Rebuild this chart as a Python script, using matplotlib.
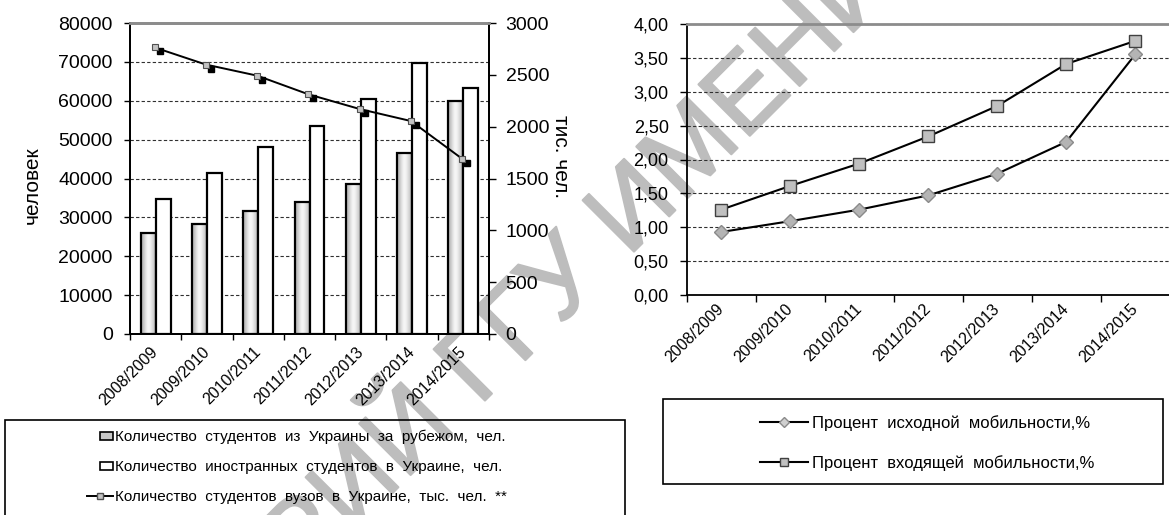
import matplotlib
matplotlib.use('Agg')
import matplotlib.pyplot as plt
import numpy as np
from matplotlib.patches import Patch, Rectangle
from matplotlib.lines import Line2D
from matplotlib.transforms import ScaledTranslation
from matplotlib.ticker import FuncFormatter
from matplotlib.legend_handler import HandlerPatch
import matplotlib.patheffects as pe

plt.rcParams['font.family'] = ['Liberation Sans', 'DejaVu Sans']

# ---------------- data ----------------
years = ['2008/2009', '2009/2010', '2010/2011', '2011/2012',
         '2012/2013', '2013/2014', '2014/2015']
abroad = [26000, 28300, 31600, 33900, 38500, 46500, 60000]      # студенты из Украины за рубежом
foreign = [34600, 41500, 48200, 53500, 60400, 69800, 63200]     # иностранные студенты в Украине
students_k = [2764, 2599, 2492, 2312, 2170, 2054, 1689]         # студенты вузов, тыс. чел.
outgoing = [0.93, 1.09, 1.26, 1.47, 1.79, 2.26, 3.55]           # исходная мобильность, %
incoming = [1.26, 1.61, 1.94, 2.34, 2.79, 3.41, 3.75]           # входящая мобильность, %

lab_abroad = 'Количество  студентов  из  Украины  за  рубежом,  чел.'
lab_foreign = 'Количество  иностранных  студентов  в  Украине,  чел.'
lab_students = 'Количество  студентов  вузов  в  Украине,  тыс.  чел.  **'
lab_out = 'Процент  исходной  мобильности,%'
lab_in = 'Процент  входящей  мобильности,%'

W, H = 1169, 515
fig = plt.figure(figsize=(W / 100, H / 100), dpi=100)


def fr(x0, y0, x1, y1):
    return [x0 / W, 1 - y1 / H, (x1 - x0) / W, (y1 - y0) / H]


grid_kw = dict(linestyle=(0, (3, 2)), color='#303030', lw=0.8)
top_col = '#8c8c8c'

# ---------------- left chart ----------------
ax = fig.add_axes(fr(130, 23, 489, 334))
ax.set_facecolor('none')
x = np.arange(len(years))
bw = 0.29
bars1 = ax.bar(x - bw / 2, abroad, bw, color='#d0d0d0', edgecolor='none', zorder=2)
grad = np.array([[0.70, 0.80, 0.92, 0.98, 0.93, 0.84, 0.76]])
for b in bars1:
    im = ax.imshow(grad, extent=[b.get_x(), b.get_x() + b.get_width(), 0, b.get_height()],
                   aspect='auto', cmap='gray', vmin=0, vmax=1, interpolation='bicubic', zorder=2.2)
    im.set_clip_path(b)
ax.bar(x - bw / 2, abroad, bw, facecolor='none', edgecolor='black', lw=1.6, zorder=3)
ax.bar(x + bw / 2, foreign, bw, facecolor='white', edgecolor='black', lw=1.6, zorder=3)
ax.set_xlim(-0.5, len(years) - 0.5)
ax.set_ylim(0, 80000)
ax.set_yticks(range(0, 80001, 10000))
ax.yaxis.grid(True, **grid_kw)
ax.set_axisbelow(True)
ax.set_xticks(np.arange(-0.5, len(years), 1))
ax.set_xticklabels([])
ax.set_xticks(x, minor=True)
ax.set_xticklabels(years, minor=True, rotation=45, ha='right', va='center',
                   rotation_mode='anchor', fontsize=11.5)
ax.tick_params(axis='x', which='minor', length=0, pad=11)
ax.tick_params(axis='x', which='major', length=4, width=1, direction='out')
ax.tick_params(axis='y', length=4.5, width=1, labelsize=14, pad=8)
for s in ['left', 'bottom', 'right']:
    ax.spines[s].set_linewidth(1.3)
ax.spines['top'].set_color(top_col)
ax.spines['top'].set_linewidth(2)
ax.set_ylabel('человек', fontsize=15)
ax.yaxis.set_label_coords(-0.245, 0.48)

axr = ax.twinx()
axr.set_facecolor('none')
axr.set_ylim(0, 3000)
axr.set_yticks(range(0, 3001, 500))
axr.tick_params(axis='y', length=5, width=1, labelsize=14, pad=7)
for s in ['left', 'bottom', 'right']:
    axr.spines[s].set_linewidth(1.3)
axr.spines['top'].set_color(top_col)
axr.spines['top'].set_linewidth(2)
shadow = axr.transData + ScaledTranslation(5 / 100, -4 / 100, fig.dpi_scale_trans)
axr.plot(x - 0.02, students_k, linestyle='none', marker='s', ms=5, mfc='black',
         mec='black', transform=shadow, zorder=4)
axr.plot(x - 0.02, students_k, color='black', lw=1.4, marker='s', ms=5,
         mfc='#c4c4c4', mec='#505050', mew=0.8, zorder=5)
axr.set_ylabel('тис. чел.', fontsize=15, rotation=270, va='center')
axr.yaxis.set_label_coords(1.2, 0.57)


# left legend
def small_box(legend, orig_handle, xdescent, ydescent, width, height, fontsize):
    wr = 13 * 72 / 100
    hr = height * 0.85
    return Rectangle((width - xdescent - wr, -ydescent + (height - hr) / 2), wr, hr)


fig.patches.append(Rectangle((5 / W, -0.1), (625 - 5) / W, 1 - 420 / H + 0.1,
                             transform=fig.transFigure, fill=False, ec='black', lw=1.2))
h_left = [Patch(facecolor='#c8c8c8', edgecolor='black', lw=1.2),
          Patch(facecolor='white', edgecolor='black', lw=1.2),
          Line2D([], [], color='black', lw=1.4, marker='s', ms=4.5, mfc='#c4c4c4', mec='#505050')]
fig.legend(h_left, [lab_abroad, lab_foreign, lab_students], loc='upper left',
           bbox_to_anchor=(87 / W, 1 - 430 / H), frameon=False, fontsize=11,
           handlelength=1.7, handleheight=0.6, handletextpad=0.15, labelspacing=1.03,
           borderpad=0, borderaxespad=0,
           handler_map={Patch: HandlerPatch(patch_func=small_box)})

# ---------------- right chart ----------------
ax2 = fig.add_axes(fr(686.7, 24, 1169.7, 295))
ax2.set_facecolor('none')
ax2.plot(x, outgoing, color='black', lw=1.5, marker='D', ms=7.5, mfc='#b4b4b4',
         mec='#8a8a8a', mew=1, zorder=4)
ax2.plot(x, incoming, color='black', lw=1.5, marker='s', ms=8.5, mfc='#c0c0c0',
         mec='#404040', mew=1, zorder=4)
ax2.set_xlim(-0.5, len(years) - 0.5)
ax2.set_ylim(0, 4)
ax2.set_yticks(np.arange(0, 4.01, 0.5))
ax2.yaxis.set_major_formatter(FuncFormatter(lambda v, p: f'{v:.2f}'.replace('.', ',')))
ax2.yaxis.grid(True, **grid_kw)
ax2.set_axisbelow(True)
ax2.set_xticks(np.arange(-0.5, len(years), 1))
ax2.set_xticklabels([])
ax2.set_xticks(x, minor=True)
ax2.set_xticklabels(years, minor=True, rotation=45, ha='right', va='center',
                    rotation_mode='anchor', fontsize=11.5)
ax2.tick_params(axis='x', which='minor', length=0, pad=8.5)
ax2.tick_params(axis='x', which='major', length=5, width=1, direction='out')
ax2.tick_params(axis='y', length=5, width=1, labelsize=13, pad=8)
ax2.spines['left'].set_linewidth(1.3)
ax2.spines['bottom'].set_linewidth(1.3)
ax2.spines['right'].set_visible(False)
ax2.spines['top'].set_color(top_col)
ax2.spines['top'].set_linewidth(2)

fig.patches.append(Rectangle((662.7 / W, 1 - 484 / H), (1163 - 662.7) / W, (484 - 399) / H,
                             transform=fig.transFigure, fill=False, ec='black', lw=1.2))
h_right = [Line2D([], [], color='black', lw=1.5, marker='D', ms=5, mfc='#d0d0d0', mec='#8a8a8a'),
           Line2D([], [], color='black', lw=1.5, marker='s', ms=6, mfc='#c0c0c0', mec='#404040')]
fig.legend(h_right, [lab_out, lab_in], loc='upper left',
           bbox_to_anchor=(760 / W, 1 - 415 / H), frameon=False, fontsize=12,
           handlelength=2.9, handletextpad=0.25, labelspacing=1.43,
           borderpad=0, borderaxespad=0)

# watermark (drawn beneath the chart content)
wm_col = '#bdbdbd'
fig.text(900 / W, 1 + 14.4 / H, 'РЕПОЗИТОРИЙ ГГУ ИМЕНИ', ha='right', va='baseline',
         rotation=45, rotation_mode='anchor', fontsize=76, color=wm_col, zorder=-1,
         path_effects=[pe.withStroke(linewidth=1.5, foreground=wm_col)])

fig.savefig('out.png', dpi=100)
